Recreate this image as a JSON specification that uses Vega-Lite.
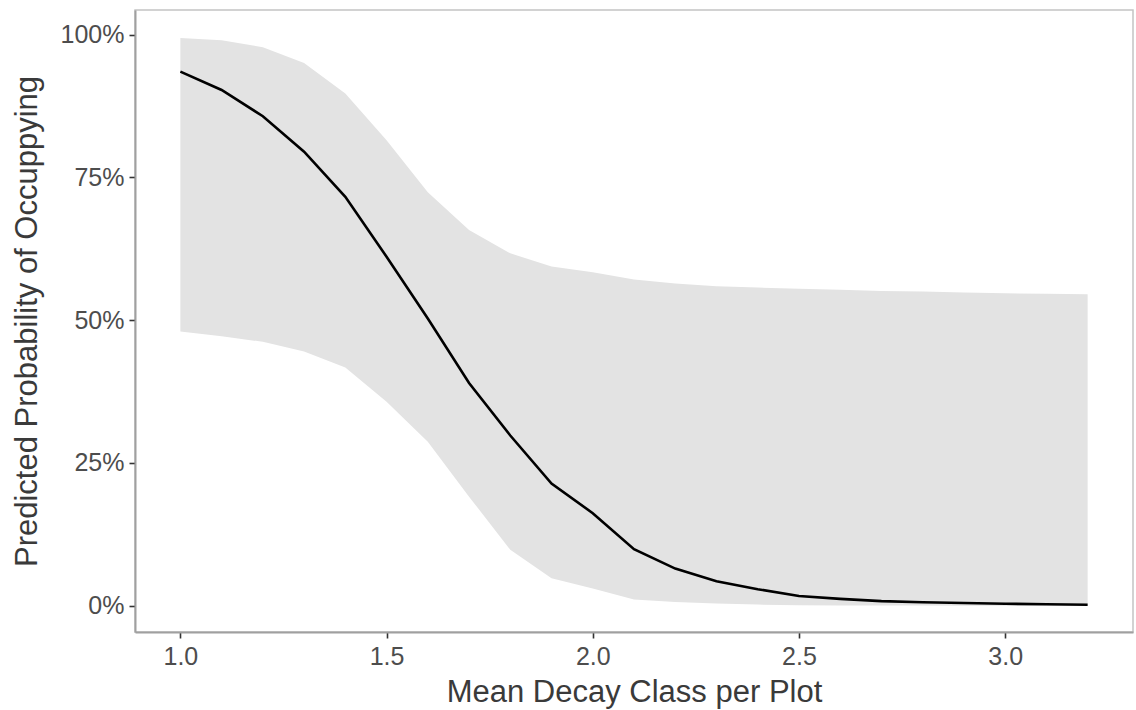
{
  "$schema": "https://vega.github.io/schema/vega-lite/v6.json",
  "width": 998,
  "height": 622,
  "autosize": {"type": "none"},
  "padding": {"left": 135, "top": 10, "right": 3, "bottom": 78},
  "background": "white",
  "config": {
    "view": {"stroke": "#c4c4c4", "strokeWidth": 1.5},
    "font": "Liberation Sans",
    "axis": {
      "grid": false,
      "domainColor": "#a0a0a0",
      "domainWidth": 2,
      "tickColor": "#333333",
      "tickWidth": 1.6,
      "tickSize": 6,
      "labelColor": "#4d4d4d",
      "labelFontSize": 25,
      "labelFont": "Liberation Sans",
      "titleFont": "Liberation Sans",
      "titleFontSize": 31,
      "titleFontWeight": "normal",
      "titleColor": "#3a3a3a"
    }
  },
  "data": {
    "values": [
      {"x": 1.0, "fit": 0.935, "lower": 0.480, "upper": 0.994},
      {"x": 1.1, "fit": 0.903, "lower": 0.472, "upper": 0.990},
      {"x": 1.2, "fit": 0.857, "lower": 0.462, "upper": 0.978},
      {"x": 1.3, "fit": 0.795, "lower": 0.445, "upper": 0.950},
      {"x": 1.4, "fit": 0.716, "lower": 0.417, "upper": 0.897},
      {"x": 1.5, "fit": 0.611, "lower": 0.357, "upper": 0.815},
      {"x": 1.6, "fit": 0.503, "lower": 0.287, "upper": 0.724},
      {"x": 1.7, "fit": 0.390, "lower": 0.191, "upper": 0.658},
      {"x": 1.8, "fit": 0.298, "lower": 0.098, "upper": 0.617},
      {"x": 1.9, "fit": 0.214, "lower": 0.048, "upper": 0.594},
      {"x": 2.0, "fit": 0.162, "lower": 0.030, "upper": 0.584},
      {"x": 2.1, "fit": 0.099, "lower": 0.011, "upper": 0.571},
      {"x": 2.2, "fit": 0.065, "lower": 0.0065, "upper": 0.564},
      {"x": 2.3, "fit": 0.043, "lower": 0.004, "upper": 0.5595},
      {"x": 2.4, "fit": 0.029, "lower": 0.002, "upper": 0.557},
      {"x": 2.5, "fit": 0.017, "lower": 0.001, "upper": 0.555},
      {"x": 2.6, "fit": 0.012, "lower": 0.0005, "upper": 0.553},
      {"x": 2.7, "fit": 0.008, "lower": 0.0003, "upper": 0.551},
      {"x": 2.8, "fit": 0.006, "lower": 0.0002, "upper": 0.550},
      {"x": 2.9, "fit": 0.0047, "lower": 0.0001, "upper": 0.5485},
      {"x": 3.0, "fit": 0.0035, "lower": 0.0001, "upper": 0.547},
      {"x": 3.1, "fit": 0.0025, "lower": 0.0, "upper": 0.546},
      {"x": 3.2, "fit": 0.0018, "lower": 0.0, "upper": 0.5455}
    ]
  },
  "encoding": {
    "x": {
      "field": "x",
      "type": "quantitative",
      "scale": {"domain": [0.89, 3.31], "nice": false, "zero": false},
      "axis": {
        "values": [1.0, 1.5, 2.0, 2.5, 3.0],
        "format": ".1f",
        "title": "Mean Decay Class per Plot",
        "labelPadding": 6,
        "titlePadding": 8
      }
    }
  },
  "layer": [
    {
      "mark": {"type": "area", "color": "#e3e3e3", "opacity": 1},
      "encoding": {
        "y": {
          "field": "lower",
          "type": "quantitative",
          "scale": {"domain": [-0.046, 1.043], "nice": false, "zero": false},
          "axis": {
            "values": [0, 0.25, 0.5, 0.75, 1.0],
            "format": ".0%",
            "title": "Predicted Probability of Occuppying",
            "labelPadding": 5,
            "titlePadding": 17
          }
        },
        "y2": {"field": "upper"}
      }
    },
    {
      "mark": {"type": "line", "color": "#000000", "strokeWidth": 2.6},
      "encoding": {
        "y": {"field": "fit", "type": "quantitative"}
      }
    }
  ]
}
